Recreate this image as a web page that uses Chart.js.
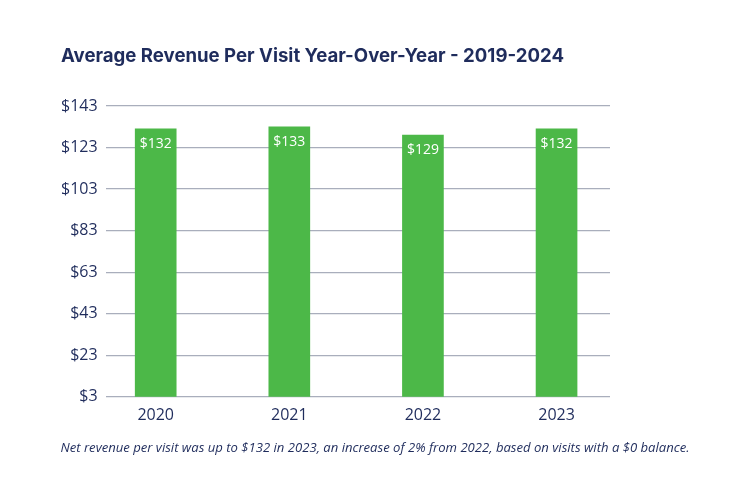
<!DOCTYPE html>
<html>
<head>
<meta charset="utf-8">
<script src="https://cdn.jsdelivr.net/npm/chart.js@4.4.1/dist/chart.umd.min.js"></script>
<style>
  body { margin: 0; background: #fff; }
  #wrap { position: relative; width: 750px; height: 500px; }
  #titulo {
    position: absolute; left: 61px; top: 44px;
    font-family: 'Inter', sans-serif; font-weight: 700; font-size: 18.6px;
    color: #1f2c5c; white-space: nowrap;
  }
  #nota {
    position: absolute; left: 0; width: 750px; top: 438px; text-align: center;
    font-family: 'Open Sans', sans-serif; font-style: italic; font-size: 13.1px;
    color: #1f2c5c; white-space: nowrap;
  }
</style>
</head>
<body>
<div id="wrap">
  <canvas id="grafico" width="750" height="500"></canvas>
  <div id="titulo">Average Revenue Per Visit Year-Over-Year - 2019-2024</div>
  <div id="nota">Net revenue per visit was up to $132 in 2023, an increase of 2% from 2022, based on visits with a $0 balance.</div>
</div>
<script>
// Datos del gráfico
const anios = ['2020', '2021', '2022', '2023'];
const ingresos = [132, 133, 129, 132];
const etiquetas = ['$132', '$133', '$129', '$132'];
const ticksY = [3, 23, 43, 63, 83, 103, 123, 143];

const azul = '#1f2c5c';
const verde = '#4cb848';

// Etiquetas blancas dentro de cada barra
const etiquetasBarras = {
  id: 'etiquetasBarras',
  afterDatasetsDraw(chart) {
    const ctx = chart.ctx;
    const meta = chart.getDatasetMeta(0);
    ctx.save();
    ctx.fillStyle = '#ffffff';
    ctx.font = '14px "Open Sans"';
    ctx.textAlign = 'center';
    ctx.textBaseline = 'middle';
    meta.data.forEach((barra, i) => {
      ctx.fillText(etiquetas[i], barra.x, barra.y + 15);
    });
    ctx.restore();
  }
};

const ctx = document.getElementById('grafico').getContext('2d');

new Chart(ctx, {
  type: 'bar',
  data: {
    datasets: [{
      data: ingresos.map((v, i) => ({ x: i, y: v })),
      backgroundColor: verde,
      borderWidth: 0,
      barThickness: 41
    }]
  },
  options: {
    responsive: false,
    animation: false,
    layout: { padding: { top: 106, left: 53, right: 140, bottom: 74 } },
    plugins: {
      legend: { display: false },
      tooltip: { enabled: false }
    },
    scales: {
      x: {
        type: 'linear',
        offset: false,
        min: -0.375,
        max: 3.4,
        grid: { display: false },
        border: { display: false },
        afterBuildTicks: function (scale) {
          scale.ticks = anios.map((_, i) => ({ value: i }));
        },
        ticks: {
          padding: 1,
          color: azul,
          font: { family: 'Open Sans', size: 16 },
          callback: function (value) {
            return anios[value];
          }
        }
      },
      y: {
        min: 3,
        max: 143,
        afterBuildTicks: function (scale) {
          scale.ticks = ticksY.map(v => ({ value: v }));
        },
        grid: { color: '#a9aebc', lineWidth: 1.3, drawTicks: false },
        border: { display: false },
        ticks: {
          padding: 8,
          color: azul,
          font: { family: 'Open Sans', size: 16 },
          callback: function (value) {
            return '$' + value;
          }
        }
      }
    }
  },
  plugins: [etiquetasBarras]
});
</script>
</body>
</html>
